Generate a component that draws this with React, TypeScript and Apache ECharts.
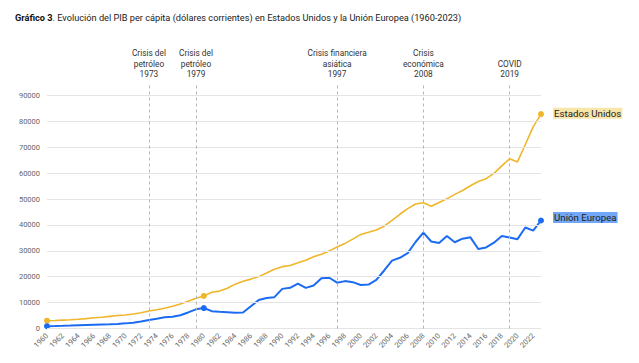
import React, { useEffect, useRef } from "react";
import * as echarts from "echarts";

const years: string[] = [];
for (let y = 1960; y <= 2023; y++) years.push(String(y));

const usValues = [
  3007, 3067, 3244, 3375, 3574, 3828, 4146, 4336, 4696, 5032,
  5234, 5609, 6094, 6726, 7226, 7801, 8592, 9453, 10565, 11674,
  12575, 13976, 14434, 15544, 17121, 18237, 19071, 20039, 21417, 22857,
  23889, 24342, 25419, 26387, 27695, 28691, 29968, 31459, 32854, 34515,
  36330, 37134, 38023, 39496, 41713, 44115, 46299, 48050, 48570, 47195,
  48651, 50066, 51784, 53291, 55124, 56763, 57867, 59915, 62805, 65548,
  64317, 71056, 77860, 82769,
];

const euValues = [
  900, 980, 1070, 1170, 1280, 1370, 1460, 1540, 1620, 1780,
  1980, 2230, 2680, 3300, 3800, 4350, 4500, 5100, 6200, 7400,
  7900, 6700, 6450, 6250, 6050, 6150, 8600, 11000, 11800, 12100,
  15300, 15700, 17300, 15700, 16600, 19400, 19600, 17700, 18300, 17900,
  16800, 16950, 18750, 22400, 26200, 27300, 29100, 33400, 37000, 33600,
  33000, 35700, 33300, 34700, 35200, 30700, 31300, 33150, 35700, 35100,
  34500, 39000, 37800, 41700,
];

const gridValues = [0, 10000, 20000, 30000, 40000, 50000, 60000, 70000, 80000, 90000];

const crisisYears = ["1973", "1979", "1997", "2008", "2019"];
const crisisLabels = [
  "Crisis del\npetróleo\n1973",
  "Crisis del\npetróleo\n1979",
  "Crisis financiera\nasiática\n1997",
  "Crisis\neconómica\n2008",
  "COVID\n2019",
];

const markedIdx = [0, 20, 63];

const FONT = "Roboto";

export default function App() {
  const ref = useRef<HTMLDivElement>(null);
  useEffect(() => {
    if (!ref.current) return;
    const chart = echarts.init(ref.current, null, { renderer: "svg" });
    const symSize = (_v: any, p: any) => (markedIdx.includes(p.dataIndex) ? 6 : 0);
    chart.setOption({
      animation: false,
      textStyle: { fontFamily: FONT },
      title: {
        left: 10,
        top: 8,
        text: "{b|Gráfico 3}. Evolución del PIB per cápita (dólares corrientes) en Estados Unidos y la Unión Europea (1960-2023)",
        textStyle: {
          fontFamily: FONT,
          fontSize: 9.2,
          fontWeight: "normal",
          color: "#222",
          rich: {
            b: { fontFamily: FONT, fontSize: 9.2, fontWeight: "bold", color: "#111" },
          },
        },
      },
      grid: { left: 47, right: 98, top: 83, bottom: 34.5, containLabel: false },
      xAxis: {
        type: "category",
        data: years,
        boundaryGap: false,
        axisLine: { show: false },
        axisTick: { show: false },
        splitLine: { show: false },
        axisLabel: {
          interval: 1,
          rotate: 45,
          fontSize: 7.5,
          color: "#666",
          margin: 6,
          fontFamily: FONT,
        },
      },
      yAxis: {
        type: "value",
        min: 0,
        max: 94800,
        interval: 10000,
        axisLine: { show: false },
        axisTick: { show: false },
        splitLine: { show: false },
        axisLabel: {
          showMaxLabel: false,
          fontSize: 7.5,
          color: "#666",
          margin: 7,
          fontFamily: FONT,
          formatter: (v: number) => String(v),
        },
      },
      series: [
        {
          type: "line",
          data: usValues,
          silent: true,
          symbol: "none",
          lineStyle: { opacity: 0 },
          z: 1,
          markLine: {
            silent: true,
            symbol: "none",
            label: { show: false },
            lineStyle: { color: "#e4e4e4", type: "solid", width: 1 },
            data: gridValues.map((v) => ({ yAxis: v })),
          },
        },
        {
          name: "Estados Unidos",
          type: "line",
          data: usValues,
          z: 3,
          symbol: "circle",
          symbolSize: symSize,
          showAllSymbol: true,
          itemStyle: { color: "#efb62b" },
          lineStyle: { color: "#efb62b", width: 1.6 },
          endLabel: {
            show: true,
            formatter: "Estados Unidos",
            color: "#222",
            fontSize: 9.7,
            fontFamily: FONT,
            backgroundColor: "#f8e5aa",
            padding: [1, 1, 0, 1],
            distance: 12,
            offset: [0, -1],
          },
          markLine: {
            silent: true,
            symbol: "none",
            lineStyle: { color: "#b5b5b5", type: [3, 3], width: 1 },
            label: {
              show: true,
              position: "end",
              color: "#333",
              fontSize: 8.3,
              lineHeight: 10.3,
              fontFamily: FONT,
              align: "center",
              distance: 4,
            },
            data: crisisYears.map((y, i) => ({
              xAxis: y,
              label: { formatter: crisisLabels[i] },
            })),
          },
        },
        {
          name: "Unión Europea",
          type: "line",
          data: euValues,
          z: 4,
          symbol: "circle",
          symbolSize: symSize,
          showAllSymbol: true,
          itemStyle: { color: "#1b6cf2" },
          lineStyle: { color: "#1b6cf2", width: 2 },
          endLabel: {
            show: true,
            formatter: "Unión Europea",
            color: "#222",
            fontSize: 9.7,
            fontFamily: FONT,
            backgroundColor: "#72a6f7",
            padding: [1, 1, 0, 1],
            distance: 12,
            offset: [0, -3],
          },
        },
      ],
    });
    return () => chart.dispose();
  }, []);
  return (
    <div
      ref={ref}
      style={{ position: "absolute", left: 0, top: 0, width: 639, height: 363 }}
    />
  );
}
